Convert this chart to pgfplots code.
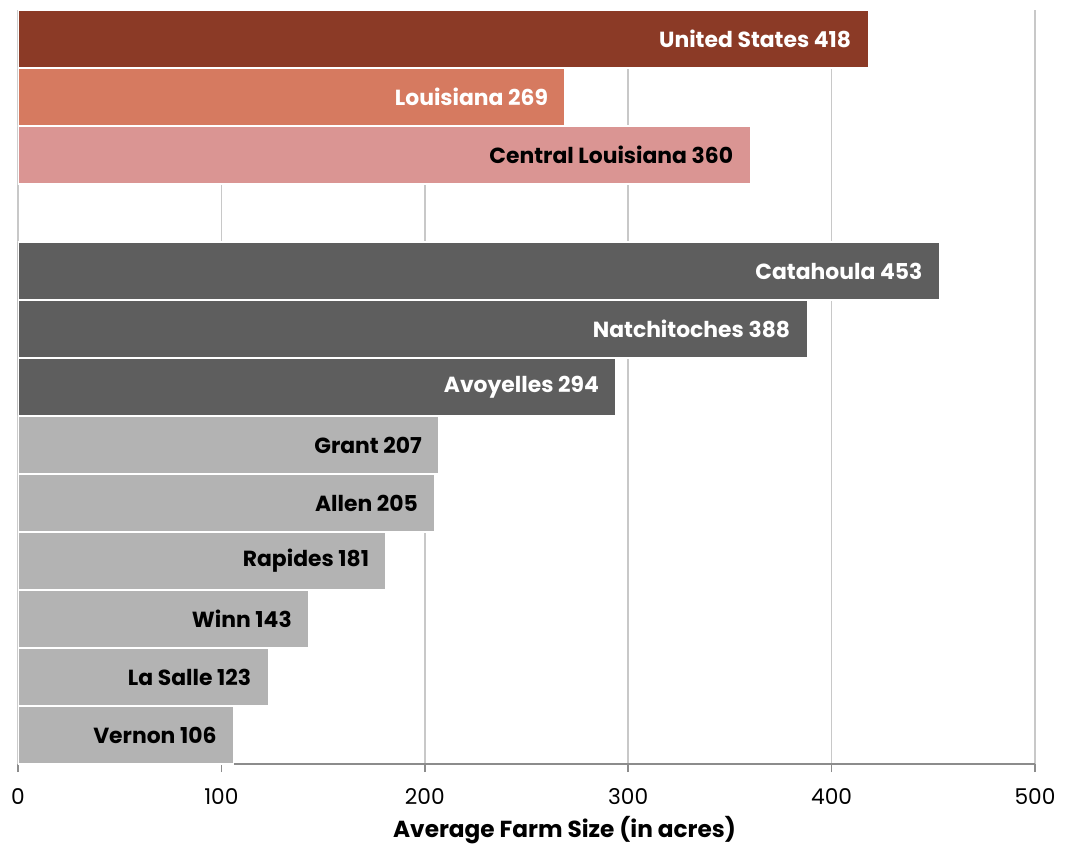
\documentclass[border=0pt]{standalone}
\usepackage{fontspec}
\setmainfont{Poppins}
\usepackage{pgfplots}
\pgfplotsset{compat=1.18}
\definecolor{cUS}{HTML}{8B3A26}
\definecolor{cLA}{HTML}{D67A60}
\definecolor{cCL}{HTML}{DA9593}
\definecolor{cDk}{HTML}{5E5E5E}
\definecolor{cLt}{HTML}{B3B3B3}
\definecolor{cGrid}{HTML}{C8C8C8}
\definecolor{cAxis}{HTML}{8C8C8C}
\begin{document}
\begin{tikzpicture}
\begin{axis}[
  scale only axis, width=762.75pt, height=565.5pt,
  xmin=0, xmax=500, ymin=-0.5, ymax=12.5, y dir=reverse,
  xbar, bar width=1, bar shift=0pt,
  axis lines*=left, separate axis lines,
  x axis line style={draw=cAxis, line width=1.2pt, -},
  y axis line style={draw=cGrid, line width=1.2pt, -},
  ytick=\empty,
  xtick={0,100,200,300,400,500},
  tick align=outside, major tick length=6pt,
  xtick style={draw=cAxis, line width=1.2pt},
  xmajorgrids, grid style={draw=cGrid, line width=1.2pt},
  /pgf/number format/assume math mode=true,
  tick label style={font=\fontsize{16.3}{19}\selectfont, text=black},
  xticklabel style={yshift=-9pt},
  xlabel={\textbf{Average Farm Size (in acres)}},
  xlabel style={font=\fontsize{17.4}{20}\selectfont, yshift=-1.5pt, xshift=28.5pt},
  point meta=explicit symbolic,
  nodes near coords={\pgfplotspointmeta},
  every node near coord/.append style={anchor=east, xshift=-9pt, font=\bfseries\fontsize{16.4}{19}\selectfont},
]
\addplot[fill=cUS, draw=white, line width=1pt, nodes near coords style={text=white}] coordinates {(418,0) [United States 418]};
\addplot[fill=cLA, draw=white, line width=1pt, nodes near coords style={text=white}] coordinates {(269,1) [Louisiana 269]};
\addplot[fill=cCL, draw=white, line width=1pt, nodes near coords style={text=black}] coordinates {(360,2) [Central Louisiana 360]};
\addplot[fill=cDk, draw=white, line width=1pt, nodes near coords style={text=white}] coordinates {
  (453,4) [Catahoula 453]
  (388,5) [Natchitoches 388]
  (294,6) [Avoyelles 294]
};
\addplot[fill=cLt, draw=white, line width=1pt, nodes near coords style={text=black}] coordinates {
  (207,7) [Grant 207]
  (205,8) [Allen 205]
  (181,9) [Rapides 181]
  (143,10) [Winn 143]
  (123,11) [La Salle 123]
  (106,12) [Vernon 106]
};
\end{axis}
\pgfresetboundingbox
\path ([shift={(-13.5pt,-61.5pt)}]current axis.south west) rectangle ([shift={(28.5pt,7.5pt)}]current axis.north east);
\end{tikzpicture}
\end{document}
